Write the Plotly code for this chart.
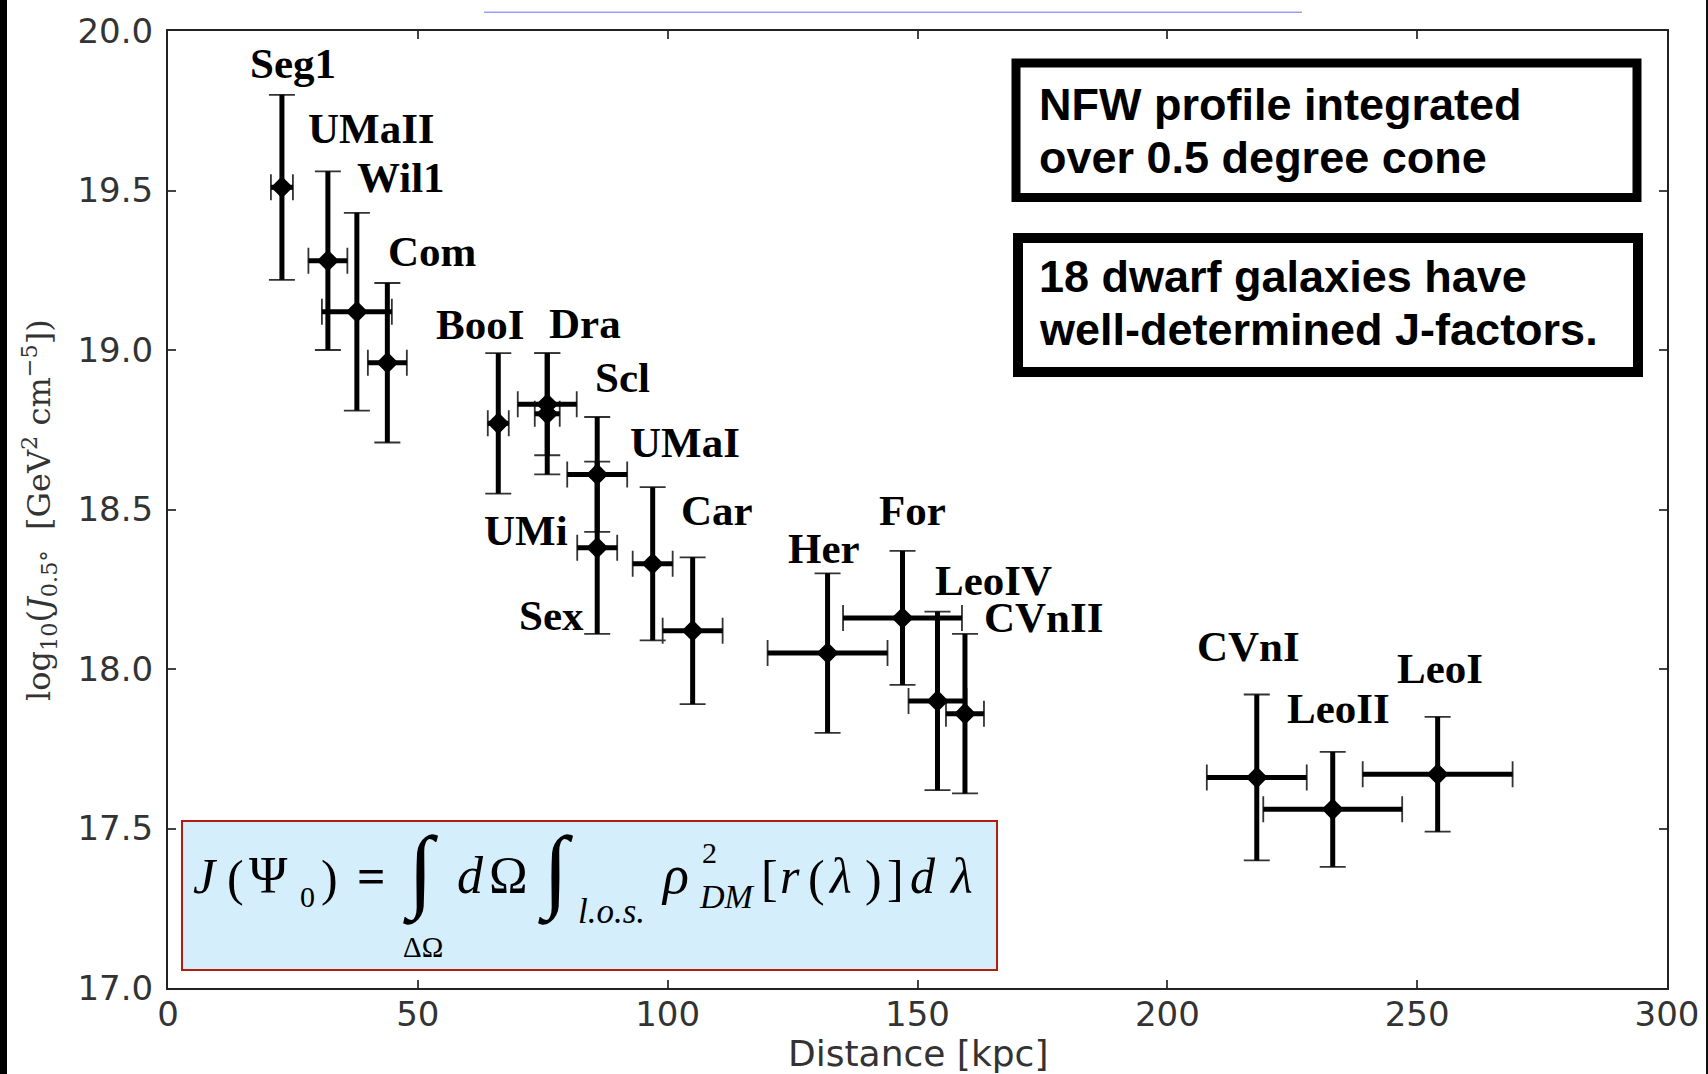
import plotly.graph_objects as go

# Dwarf spheroidal galaxies: distance [kpc] and log10 J-factor (0.5 deg cone)
galaxies = ["Seg1", "UMaII", "Wil1", "Com", "BooI", "Dra", "UMi", "Scl", "Sex",
            "UMaI", "Car", "Her", "For", "LeoIV", "CVnII", "CVnI", "LeoII", "LeoI"]
distance = [22.8, 32.0, 37.8, 43.9, 66.1, 75.9, 75.9, 85.9, 85.9,
            97.0, 105.0, 132.0, 147.0, 154.0, 159.5, 217.9, 233.1, 254.1]
distance_err = [2.2, 3.9, 7.0, 3.9, 2.1, 5.9, 2.5, 6.0, 4.0,
                4.0, 6.0, 12.0, 11.9, 5.8, 3.8, 10.0, 13.9, 15.0]
log_j = [19.51, 19.28, 19.12, 18.96, 18.77, 18.83, 18.80, 18.61, 18.38,
         18.33, 18.12, 18.05, 18.16, 17.90, 17.86, 17.66, 17.56, 17.67]
log_j_err = [0.29, 0.28, 0.31, 0.25, 0.22, 0.16, 0.19, 0.18, 0.27,
             0.24, 0.23, 0.25, 0.21, 0.28, 0.25, 0.26, 0.18, 0.18]

x_ticks = [0, 50, 100, 150, 200, 250, 300]
y_ticks = [17.0, 17.5, 18.0, 18.5, 19.0, 19.5, 20.0]

# name label offsets from each point, in pixels (right, up)
label_shift = {
    "Seg1": (-34, 124), "UMaII": (-22, 132), "Wil1": (-2, 134), "Com": (-1, 111),
    "BooI": (-64, 99), "Dra": (0, 81), "UMi": (-65, -117), "Scl": (-4, 97),
    "Sex": (-80, -68), "UMaI": (-25, 121), "Car": (-14, 120), "Her": (-42, 105),
    "For": (-26, 107), "LeoIV": (-4, 120), "CVnII": (17, 96), "CVnI": (-62, 131),
    "LeoII": (-48, 101), "LeoI": (-43, 106),
}

W, H = 1708, 1074
L, R, T, B = 168, 41, 31, 86
PW, PH = W - L - R, H - T - B


def fx(X):
    return (X - L) / PW


def fy(Y):
    return (H - B - Y) / PH


fig = go.Figure()

# thin error bars with caps
fig.add_trace(go.Scatter(
    x=distance, y=log_j, mode="markers",
    marker=dict(size=1, color="rgba(0,0,0,0)"),
    error_x=dict(type="data", array=distance_err, thickness=1.8, width=13, color="#333"),
    error_y=dict(type="data", array=log_j_err, thickness=1.8, width=13, color="#333"),
    hoverinfo="skip", showlegend=False,
))
# heavy error bars and diamond markers
fig.add_trace(go.Scatter(
    x=distance, y=log_j, mode="markers",
    marker=dict(symbol="diamond", size=17, color="black"),
    error_x=dict(type="data", array=distance_err, thickness=5, width=0, color="black"),
    error_y=dict(type="data", array=log_j_err, thickness=5, width=0, color="black"),
    text=galaxies, showlegend=False,
))

annotations = []
for name, xv, yv in zip(galaxies, distance, log_j):
    dx, dy = label_shift[name]
    annotations.append(dict(
        x=xv, y=yv, xref="x", yref="y", text=name, showarrow=False,
        xanchor="left", yanchor="middle", xshift=dx, yshift=dy,
        font=dict(family="Liberation Serif", size=43, color="black", weight="bold"),
    ))

# axis titles
annotations.append(dict(
    x=fx(39), y=fy(510), xref="paper", yref="paper", showarrow=False,
    textangle=-90, xanchor="center", yanchor="middle",
    text="log<sub>10</sub>(<i>J</i><sub>0.5°</sub>  [GeV<sup>2</sup> cm<sup>−5</sup>])",
    font=dict(family="DejaVu Serif", size=32, color="#333"),
))
annotations.append(dict(
    x=fx(917.5), y=fy(1053), xref="paper", yref="paper", showarrow=False,
    xanchor="center", yanchor="middle", text="Distance [kpc]",
    font=dict(family="DejaVu Sans", size=36, color="#333"),
))

# boxed notes on the right, one line each: (text, left px, baseline px)
note_size = 45
note_lines = [
    ("NFW profile integrated", 1038, 120),
    ("over 0.5 degree cone", 1038, 173),
    ("18 dwarf galaxies have", 1038, 292),
    ("well-determined J-factors.", 1038, 345),
]
for txt, X, base in note_lines:
    annotations.append(dict(
        x=fx(X), y=fy(base - 0.3465 * note_size), xref="paper", yref="paper",
        showarrow=False, xanchor="left", yanchor="middle", text=txt, borderpad=0,
        font=dict(family="Liberation Sans", size=note_size, color="black", weight="bold"),
    ))

# J-factor definition, laid out glyph by glyph: (text, left px, baseline px, size)
formula = [
    ("<i>J</i>", 192, 893, 50), ("(", 226, 895, 50), ("Ψ", 248, 893, 52),
    ("0", 299, 907, 30), (")", 320, 895, 50), ("<b>=</b>", 356, 893, 50),
    ("∫", 402, 903, 92), ("ΔΩ", 402, 957, 29),
    ("<i>d</i>", 456, 893, 52), ("Ω", 488, 893, 52),
    ("∫", 537, 903, 92), ("<i>l.o.s.</i>", 577, 923, 35),
    ("<i>ρ</i>", 660, 893, 54), ("2", 701, 863, 30), ("<i>DM</i>", 698, 908, 34),
    ("[", 760, 895, 50), ("<i>r</i>", 779, 893, 50), ("(", 807, 895, 50),
    ("<i>λ</i>", 827, 893, 50), (")", 864, 895, 50), ("]", 886, 895, 50),
    ("<i>d</i>", 909, 893, 50), ("<i>λ</i>", 948, 893, 50),
]
for txt, X, base, size in formula:
    annotations.append(dict(
        x=fx(X), y=fy(base - 0.3375 * size), xref="paper", yref="paper",
        showarrow=False, xanchor="left", yanchor="middle", text=txt,
        borderpad=0, font=dict(family="Liberation Serif", size=size, color="black"),
    ))

shapes = [
    # formula panel
    dict(type="rect", xref="paper", yref="paper", x0=fx(182), x1=fx(997),
         y0=fy(970), y1=fy(821), fillcolor="#d5eefb",
         line=dict(color="#b01e10", width=2), layer="above"),
    # note boxes
    dict(type="rect", xref="paper", yref="paper", x0=fx(1016), x1=fx(1637),
         y0=fy(197.5), y1=fy(63), fillcolor="white",
         line=dict(color="black", width=9), layer="below"),
    dict(type="rect", xref="paper", yref="paper", x0=fx(1018), x1=fx(1638),
         y0=fy(372), y1=fy(238), fillcolor="white",
         line=dict(color="black", width=10), layer="below"),
    # thin rule above the frame
    dict(type="line", xref="paper", yref="paper", x0=fx(484), x1=fx(1302),
         y0=fy(12.3), y1=fy(12.3), line=dict(color="#9aa0f5", width=1.5)),
    # dark slide edges
    dict(type="rect", xref="paper", yref="paper", x0=fx(-5), x1=fx(7),
         y0=fy(H + 5), y1=fy(-5), fillcolor="black", line=dict(width=0)),
    dict(type="rect", xref="paper", yref="paper", x0=fx(1706), x1=fx(W + 5),
         y0=fy(H + 5), y1=fy(-5), fillcolor="#111", line=dict(width=0)),
]

axis_common = dict(
    showgrid=False, zeroline=False, showline=True, linecolor="#222", linewidth=2,
    mirror="ticks", ticks="inside", ticklen=8, tickwidth=1.5, tickcolor="#444",
    tickfont=dict(family="DejaVu Sans", size=34, color="#333"),
)

fig.update_layout(
    width=W, height=H,
    margin=dict(l=L, r=R, t=T, b=B, autoexpand=False),
    paper_bgcolor="white", plot_bgcolor="white",
    xaxis=dict(range=[0, 300], tickvals=x_ticks, ticktext=[str(v) for v in x_ticks],
               ticklabelstandoff=-5, **axis_common),
    yaxis=dict(range=[17, 20], tickvals=y_ticks, ticktext=[f"{v:.1f}" for v in y_ticks],
               ticklabelstandoff=6, **axis_common),
    annotations=annotations, shapes=shapes,
)

fig.write_html("out.html")
